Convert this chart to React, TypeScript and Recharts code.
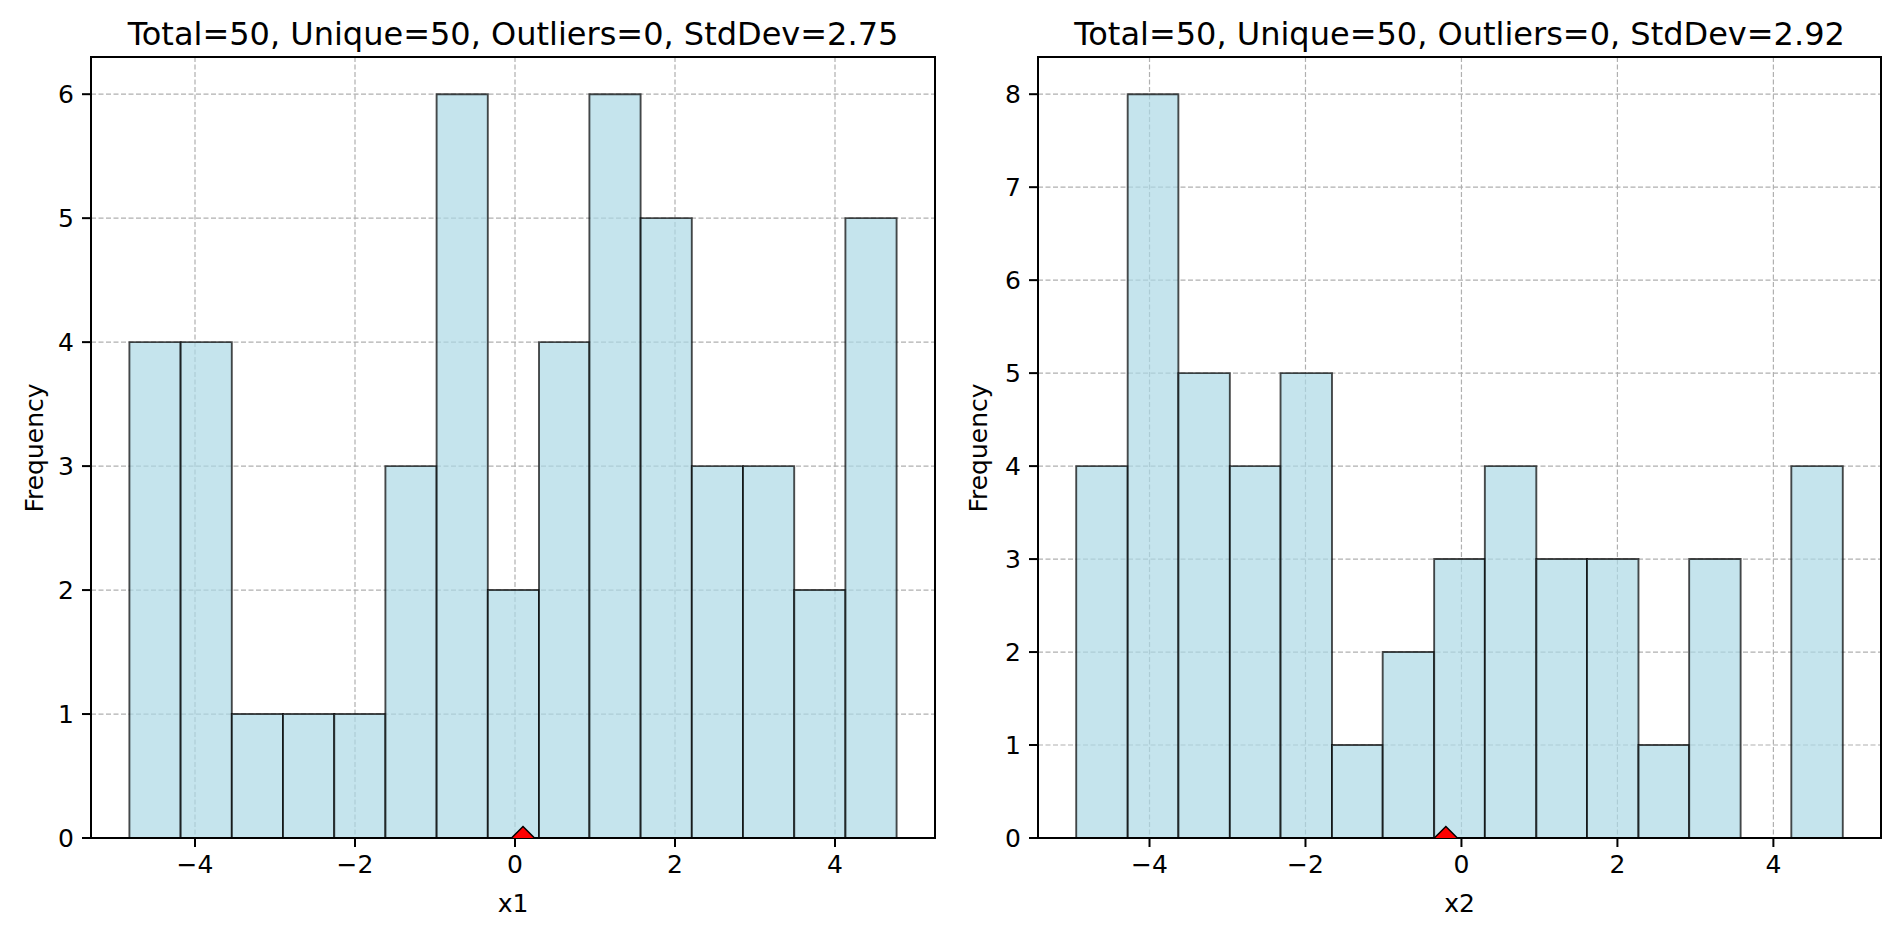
import React from "react";
import {
  ComposedChart,
  XAxis,
  YAxis,
  CartesianGrid,
  ReferenceArea,
  Scatter,
} from "recharts";

// bin edges (16) and counts (15)
const X1_EDGES = [-4.82, -4.18, -3.54, -2.9, -2.26, -1.62, -0.98, -0.34, 0.3, 0.93, 1.57, 2.21, 2.85, 3.49, 4.13, 4.77];
const X1_COUNTS = [4, 4, 1, 1, 1, 3, 6, 2, 4, 6, 5, 3, 3, 2, 5];
const X1_MEAN = 0.1;
const X1_TITLE = "Total=50, Unique=50, Outliers=0, StdDev=2.75";

const X2_EDGES = [-4.94, -4.28, -3.63, -2.97, -2.32, -1.66, -1.01, -0.35, 0.3, 0.96, 1.61, 2.27, 2.92, 3.58, 4.23, 4.89];
const X2_COUNTS = [4, 8, 5, 4, 5, 1, 2, 3, 4, 3, 3, 1, 3, 0, 4];
const X2_MEAN = -0.2;
const X2_TITLE = "Total=50, Unique=50, Outliers=0, StdDev=2.92";

const X_TICKS = [-4, -2, 0, 2, 4];
const Y1_TICKS = [0, 1, 2, 3, 4, 5, 6];
const Y2_TICKS = [0, 1, 2, 3, 4, 5, 6, 7, 8];

const FONT = "'DejaVu Sans', sans-serif";
const CHART_W = 950;
const CHART_H = 940;

const fmt = (v: number) => (v < 0 ? `\u2212${-v}` : `${v}`);

const Diamond = (props: any) => {
  const { cx, cy } = props;
  const r = 11.5;
  return (
    <path
      d={`M${cx},${cy - r}L${cx + r},${cy}L${cx},${cy + r}L${cx - r},${cy}Z`}
      fill="#ff0000"
      stroke="#000"
      strokeWidth={1.5}
    />
  );
};

type PanelProps = {
  left: number;
  edges: number[];
  counts: number[];
  mean: number;
  title: string;
  xLabel: string;
  yTicks: number[];
  xDomain: [number, number];
  yDomain: [number, number];
  yAxisWidth: number;
  marginRight: number;
  yLabelX: number;
};

const Panel: React.FC<PanelProps> = ({
  left,
  edges,
  counts,
  mean,
  title,
  xLabel,
  yTicks,
  xDomain,
  yDomain,
  yAxisWidth,
  marginRight,
  yLabelX,
}) => {
  const plotW = CHART_W - yAxisWidth - marginRight;
  const centerX = left + yAxisWidth + plotW / 2;
  const tickStyle = { fill: "#000", fontSize: 25, fontFamily: FONT };
  const frame = { stroke: "#000", strokeWidth: 2 };

  return (
    <>
      <div style={{ position: "absolute", left, top: 0 }}>
        <ComposedChart
          width={CHART_W}
          height={CHART_H}
          margin={{ top: 57, right: marginRight, bottom: 42, left: 0 }}
        >
          <CartesianGrid stroke="#b0b0b0" strokeWidth={1.2} strokeDasharray="5 2.5" />
          <XAxis
            type="number"
            dataKey="x"
            domain={xDomain}
            allowDataOverflow
            ticks={X_TICKS}
            interval={0}
            tickFormatter={fmt}
            height={60}
            tickSize={9}
            tickMargin={8}
            tick={tickStyle}
            tickLine={frame}
            axisLine={frame}
          />
          <YAxis
            type="number"
            dataKey="y"
            domain={yDomain}
            allowDataOverflow
            ticks={yTicks}
            interval={0}
            width={yAxisWidth}
            tickSize={9}
            tickMargin={8}
            tick={tickStyle}
            tickLine={frame}
            axisLine={frame}
          />
          {counts.map((c, i) =>
            c > 0 ? (
              <ReferenceArea
                key={i}
                x1={edges[i]}
                x2={edges[i + 1]}
                y1={0}
                y2={c}
                fill="#add8e6"
                fillOpacity={0.7}
                stroke="#000"
                strokeOpacity={0.7}
                strokeWidth={1.9}
                ifOverflow="visible"
              />
            ) : null
          )}
          {/* axes frame (matplotlib spines) */}
          <ReferenceArea
            x1={xDomain[0]}
            x2={xDomain[1]}
            y1={yDomain[0]}
            y2={yDomain[1]}
            fill="none"
            fillOpacity={0}
            stroke="#000"
            strokeWidth={2}
            ifOverflow="visible"
          />
          <Scatter
            data={[{ x: mean, y: 0 }]}
            shape={Diamond}
            isAnimationActive={false}
          />
        </ComposedChart>
      </div>
      <div
        style={{
          position: "absolute",
          left: centerX,
          top: 34,
          transform: "translate(-50%, -50%)",
          fontFamily: FONT,
          fontSize: 32,
          lineHeight: 1,
          whiteSpace: "nowrap",
          color: "#000",
        }}
      >
        {title}
      </div>
      <div
        style={{
          position: "absolute",
          left: centerX,
          top: 903,
          transform: "translate(-50%, -50%)",
          fontFamily: FONT,
          fontSize: 25,
          lineHeight: 1,
          whiteSpace: "nowrap",
          color: "#000",
        }}
      >
        {xLabel}
      </div>
      <div
        style={{
          position: "absolute",
          left: yLabelX,
          top: 57 + 781 / 2,
          transform: "translate(-50%, -50%) rotate(-90deg)",
          fontFamily: FONT,
          fontSize: 25,
          lineHeight: 1,
          whiteSpace: "nowrap",
          color: "#000",
        }}
      >
        Frequency
      </div>
    </>
  );
};

const App: React.FC = () => {
  return (
    <div
      style={{
        position: "absolute",
        left: 0,
        top: 0,
        width: 1900,
        height: 940,
        background: "#fff",
        overflow: "hidden",
      }}
    >
      <Panel
        left={0}
        edges={X1_EDGES}
        counts={X1_COUNTS}
        mean={X1_MEAN}
        title={X1_TITLE}
        xLabel="x1"
        yTicks={Y1_TICKS}
        xDomain={[-5.3, 5.25]}
        yDomain={[0, 6.3]}
        yAxisWidth={91}
        marginRight={15}
        yLabelX={34}
      />
      <Panel
        left={950}
        edges={X2_EDGES}
        counts={X2_COUNTS}
        mean={X2_MEAN}
        title={X2_TITLE}
        xLabel="x2"
        yTicks={Y2_TICKS}
        xDomain={[-5.43, 5.38]}
        yDomain={[0, 8.4]}
        yAxisWidth={88}
        marginRight={19}
        yLabelX={978}
      />
    </div>
  );
};

export default App;
